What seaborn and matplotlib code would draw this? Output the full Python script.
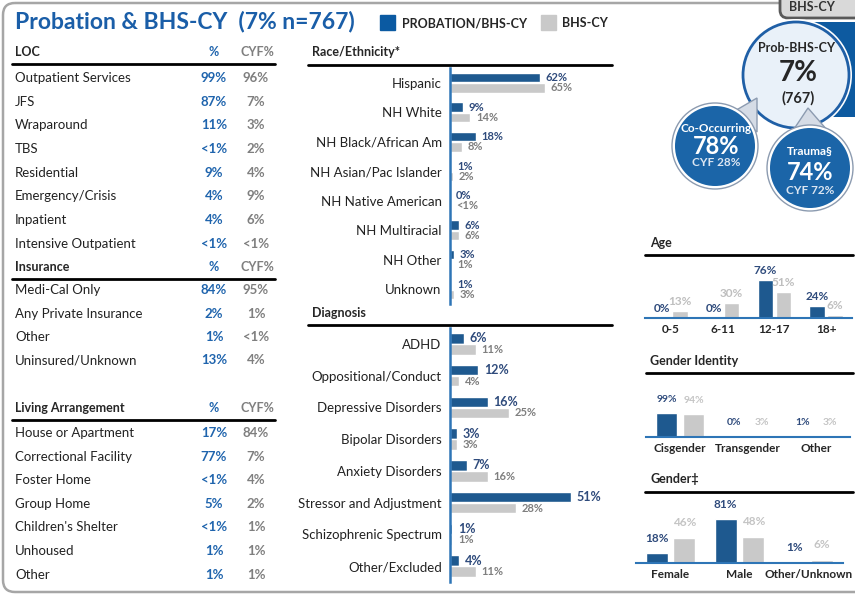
import pandas as pd
import matplotlib.pyplot as plt
import seaborn as sns
from matplotlib.patches import Rectangle, Circle, Polygon, FancyBboxPatch
from matplotlib.lines import Line2D

# ---- data ----
loc_names = ["Outpatient Services", "JFS", "Wraparound", "TBS", "Residential",
             "Emergency/Crisis", "Inpatient", "Intensive Outpatient"]
loc_pct = ["99%", "87%", "11%", "<1%", "9%", "4%", "4%", "<1%"]
loc_cyf = ["96%", "7%", "3%", "2%", "4%", "9%", "6%", "<1%"]

ins_names = ["Medi-Cal Only", "Any Private Insurance", "Other", "Uninsured/Unknown"]
ins_pct = ["84%", "2%", "1%", "13%"]
ins_cyf = ["95%", "1%", "<1%", "4%"]

liv_names = ["House or Apartment", "Correctional Facility", "Foster Home", "Group Home",
             "Children's Shelter", "Unhoused", "Other"]
liv_pct = ["17%", "77%", "<1%", "5%", "<1%", "1%", "1%"]
liv_cyf = ["84%", "7%", "4%", "2%", "1%", "1%", "1%"]

race_cats = ["Hispanic", "NH White", "NH Black/African Am", "NH Asian/Pac Islander",
             "NH Native American", "NH Multiracial", "NH Other", "Unknown"]
race_prob = [62, 9, 18, 1, 0, 6, 3, 1]
race_cyf = [65, 14, 8, 2, 0.4, 6, 1, 3]

dx_cats = ["ADHD", "Oppositional/Conduct", "Depressive Disorders", "Bipolar Disorders",
           "Anxiety Disorders", "Stressor and Adjustment", "Schizophrenic Spectrum",
           "Other/Excluded"]
dx_prob = [6, 12, 16, 3, 7, 51, 1, 4]
dx_cyf = [11, 4, 25, 3, 16, 28, 1, 11]

age_cats = ["0-5", "6-11", "12-17", "18+"]
age_prob = [0, 0, 76, 24]
age_cyf = [13, 30, 51, 6]

gi_cats = ["Cisgender", "Transgender", "Other"]
gi_prob = [99, 0, 1]
gi_cyf = [94, 3, 3]

g_cats = ["Female", "Male", "Other/Unknown"]
g_prob = [18, 81, 1]
g_cyf = [46, 48, 6]

BLUE = "#0b5aa2"
GRAY = "#c9c9c9"
TXT_BLUE = "#1f64ad"
TXT_GRAY = "#7f7f7f"
NAVY = "#2f4b7c"
LINE_BLUE = "#2e75b6"

sns.set_style("white")
plt.rcParams["font.family"] = ["Lato", "DejaVu Sans"]

W, H = 855, 596
fig = plt.figure(figsize=(W / 100, H / 100), dpi=100)
bg = fig.add_axes([0, 0, 1, 1])
bg.set_xlim(0, W)
bg.set_ylim(H, 0)
bg.axis("off")


def px_axes(l, t, r, b):
    return fig.add_axes([l / W, 1 - b / H, (r - l) / W, (b - t) / H])


def hline(x0, x1, y, lw=2, color="black"):
    bg.add_line(Line2D([x0, x1], [y, y], color=color, lw=lw))


def fmt(v):
    return "<1%" if 0 < v < 1 else f"{v:.0f}%"


def long_df(cats, a, b):
    return pd.DataFrame({
        "cat": cats * 2,
        "val": list(a) + list(b),
        "grp": ["PROBATION/BHS-CY"] * len(cats) + ["BHS-CY"] * len(cats),
    })


# ---- frame ----
bg.add_patch(FancyBboxPatch((3, 3), 950, 589, boxstyle="round,pad=0,rounding_size=12",
                            fill=False, ec="#a6a6a6", lw=1.8))

# title and legend
bg.text(15, 22, "Probation & BHS-CY  (7% n=767)", color="#1a5ea8", fontsize=16.5,
        fontweight="bold", va="center")
bg.add_patch(Rectangle((380, 15), 15, 15, color=BLUE))
bg.text(402, 23, "PROBATION/BHS-CY", fontsize=9, fontweight="bold", va="center")
bg.add_patch(Rectangle((541, 15), 15, 15, color=GRAY))
bg.text(562, 23, "BHS-CY", fontsize=9, fontweight="bold", va="center")

# ---- left tables ----
def table(title, y_head, y_line, names, pct, cyf, rows_y):
    bg.text(15, y_head, title, fontsize=9, fontweight="bold", va="center")
    bg.text(214, y_head, "%", fontsize=9, fontweight="bold", color=TXT_BLUE,
            va="center", ha="center")
    bg.text(257, y_head, "CYF%", fontsize=9, fontweight="bold", color=TXT_GRAY,
            va="center", ha="center")
    hline(12, 275, y_line)
    for n, p, c, y in zip(names, pct, cyf, rows_y):
        bg.text(15, y, n, fontsize=9.5, va="center", color="#222222")
        bg.text(214, y, p, fontsize=9.5, fontweight="bold", color=TXT_BLUE,
                va="center", ha="center")
        bg.text(256, y, c, fontsize=9.5, fontweight="bold", color=TXT_GRAY,
                va="center", ha="center")


table("LOC", 52, 64, loc_names, loc_pct, loc_cyf,
      [78 + i * 23.7 for i in range(len(loc_names))])
table("Insurance", 267, 279, ins_names, ins_pct, ins_cyf,
      [290 + i * 23.5 for i in range(len(ins_names))])
table("Living Arrangement", 408, 420, liv_names, liv_pct, liv_cyf,
      [433 + i * 23.6 for i in range(len(liv_names))])

# ---- middle: horizontal bars ----
def hbars(cats, a, b, box, xmax, sizes):
    ax = px_axes(*box)
    sns.barplot(data=long_df(cats, a, b), y="cat", x="val", hue="grp", orient="h",
                palette=[BLUE, GRAY], width=0.7, gap=0.05, legend=False, ax=ax)
    ax.set_xlim(0, xmax)
    ax.set_xlabel("")
    ax.set_ylabel("")
    ax.set_xticks([])
    for s in ["top", "right", "bottom"]:
        ax.spines[s].set_visible(False)
    ax.spines["left"].set_color(LINE_BLUE)
    ax.spines["left"].set_linewidth(1.8)
    ax.tick_params(axis="y", length=0, pad=6, labelsize=9.5, labelcolor="#222222")
    ax.set_facecolor("none")
    cols = [NAVY, TXT_GRAY]
    for cont, vals, col, fs in zip(ax.containers, [a, b], cols, sizes):
        ax.bar_label(cont, labels=[fmt(v) for v in vals], padding=4, fontsize=fs,
                     fontweight="bold", color=col)
    return ax


bg.text(312, 52, "Race/Ethnicity*", fontsize=9, fontweight="bold", va="center")
hline(308, 612, 65)
hbars(race_cats, race_prob, race_cyf, (450, 68, 610, 304), 110, (8, 8))

bg.text(312, 313, "Diagnosis", fontsize=9, fontweight="bold", va="center")
hline(308, 612, 325)
hbars(dx_cats, dx_prob, dx_cyf, (450, 328, 610, 582), 67.5, (9, 8))

# ---- right: column charts ----
def vbars(cats, a, b, box, width, gap, pad, label_gray, fs):
    ax = px_axes(*box)
    sns.barplot(data=long_df(cats, a, b), x="cat", y="val", hue="grp",
                palette=[BLUE, GRAY], width=width, gap=gap, legend=False, ax=ax)
    ax.set_ylim(0, 100)
    ax.set_xlabel("")
    ax.set_ylabel("")
    ax.set_yticks([])
    for s in ["top", "right", "left"]:
        ax.spines[s].set_visible(False)
    ax.spines["bottom"].set_color(LINE_BLUE)
    ax.spines["bottom"].set_linewidth(1.5)
    ax.tick_params(axis="x", length=0, pad=4, labelsize=8.5)
    for lab in ax.get_xticklabels():
        lab.set_fontweight("bold")
    ax.set_facecolor("none")
    for cont, vals, col in zip(ax.containers, [a, b], [NAVY, label_gray]):
        ax.bar_label(cont, labels=[fmt(v) for v in vals], padding=pad, fontsize=fs,
                     fontweight="bold", color=col)
    return ax


bg.text(650, 243, "Age", fontsize=9, fontweight="bold", va="center")
hline(645, 853, 255)
vbars(age_cats, age_prob, age_cyf, (645, 268, 852, 318), 0.7, 0.15, 3, "#bfbfbf", 8.5)

bg.text(650, 361, "Gender Identity", fontsize=9, fontweight="bold", va="center")
hline(646, 853, 373)
vbars(gi_cats, gi_prob, gi_cyf, (646, 413, 850, 437), 0.8, 0.25, 7, "#c4c4c4", 7.5)

bg.text(650, 479, "Gender\u2021", fontsize=9, fontweight="bold", va="center")
hline(645, 853, 492)
vbars(g_cats, g_prob, g_cyf, (636, 509, 843, 563), 0.8, 0.2, 7, "#c4c4c4", 8.5)

# ---- circles ----
bg.add_patch(FancyBboxPatch((780, -12), 90, 30, boxstyle="round,pad=0,rounding_size=8",
                            fc="#d9d9d9", ec="#595959", lw=2))
bg.text(812, 7, "BHS-CY", fontsize=9, fontweight="bold", ha="center", va="center",
        color="#333333")
bg.add_patch(FancyBboxPatch((768, 22), 110, 95, boxstyle="round,pad=0,rounding_size=20",
                            fc="#0d5aa0", ec="none"))
bg.add_patch(Circle((796, 75), 56, fc="white", ec="none"))
bg.add_patch(Circle((796, 75), 53, fc="#e9f1f9", ec="#1f5fa6", lw=2))
bg.text(797, 48, "Prob-BHS-CY", fontsize=9, fontweight="bold", ha="center", va="center")
bg.text(798, 73, "7%", fontsize=20, fontweight="bold", ha="center", va="center")
bg.text(798, 98, "(767)", fontsize=10.5, fontweight="bold", ha="center", va="center")

# co-occurring bubble
bg.add_patch(Polygon([(733, 112), (757, 98), (757, 132)], closed=True,
                     fc="#d5dce6", ec="#8c9bb0", lw=1))
bg.add_patch(Circle((715, 146), 43, fc="white", ec="#8c9bb0", lw=1))
bg.add_patch(Circle((715, 146), 40, fc="#1b65a8", ec="none"))
bg.text(716, 129, "Co-Occurring", fontsize=8.5, fontweight="bold", color="white",
        ha="center", va="center")
bg.text(716, 146, "78%", fontsize=17, fontweight="bold", color="white",
        ha="center", va="center")
bg.text(716, 163, "CYF 28%", fontsize=8.5, fontweight="bold", color="#dce6f2",
        ha="center", va="center")

# trauma bubble
bg.add_patch(Polygon([(788, 138), (808, 108), (834, 138)], closed=True,
                     fc="#d5dce6", ec="#8c9bb0", lw=1))
bg.add_patch(Circle((810, 168), 43, fc="white", ec="#8c9bb0", lw=1))
bg.add_patch(Circle((810, 168), 40, fc="#1b65a8", ec="none"))
bg.text(810, 151, "Trauma\u00a7", fontsize=8.5, fontweight="bold", color="white",
        ha="center", va="center")
bg.text(810, 172, "74%", fontsize=17, fontweight="bold", color="white",
        ha="center", va="center")
bg.text(810, 190, "CYF 72%", fontsize=8.5, fontweight="bold", color="#dce6f2",
        ha="center", va="center")

plt.savefig("out.png", dpi=100)
